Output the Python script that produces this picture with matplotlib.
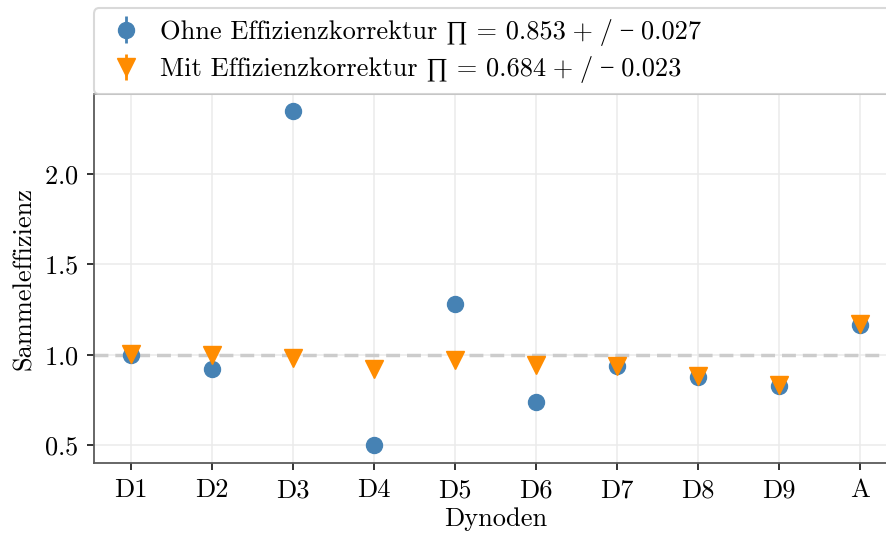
import matplotlib
matplotlib.use("Agg")
import matplotlib.pyplot as plt
import numpy as np

plt.rcParams.update({
    "font.family": ["cmr10", "Liberation Serif", "DejaVu Serif"],
    "mathtext.fontset": "cm",
    "axes.formatter.use_mathtext": True,
    "font.size": 19,
})

dynodes = ["D1", "D2", "D3", "D4", "D5", "D6", "D7", "D8", "D9", "A"]
eff_raw = [1.00, 0.92, 2.35, 0.50, 1.28, 0.74, 0.94, 0.88, 0.83, 1.165]
eff_raw_err = [0.02, 0.02, 0.03, 0.02, 0.02, 0.02, 0.02, 0.02, 0.02, 0.02]
eff_corr = [1.005, 1.0, 0.985, 0.92, 0.97, 0.945, 0.94, 0.885, 0.835, 1.17]
eff_corr_err = [0.02, 0.02, 0.02, 0.02, 0.02, 0.02, 0.02, 0.02, 0.02, 0.02]
# medium (four-per-em) spaces around the binary operators
sp = "\u2005"
label_raw = f"Ohne Effizienzkorrektur \u220f = 0.853{sp}+{sp}/{sp}\u2212{sp}0.027"
label_corr = f"Mit Effizienzkorrektur \u220f = 0.684{sp}+{sp}/{sp}\u2212{sp}0.023"

fig = plt.figure(figsize=(8.86, 5.33), dpi=100)
ax = fig.add_axes([94 / 886, 70 / 533, 803 / 886, 369 / 533])

x = np.arange(len(dynodes))
ax.axhline(1.0, color="#cccccc", lw=2.5, ls=(0, (4, 2)), zorder=1)
ax.errorbar(x, eff_raw, yerr=eff_raw_err, fmt="o", color="#4682b4",
            ms=11.5, elinewidth=2, capsize=0, label=label_raw, zorder=3)
ax.errorbar(x, eff_corr, yerr=eff_corr_err, fmt="v", color="#ff8c00",
            ms=13, elinewidth=2, capsize=0, label=label_corr, zorder=4)

ax.set_xticks(x)
ax.set_xticklabels(dynodes)
ax.set_yticks([0.5, 1.0, 1.5, 2.0])
ax.set_xlim(-0.457, 9.457)
ax.set_ylim(0.403, 2.442)
ax.grid(True, color="#ebebeb", lw=1.1)
ax.set_axisbelow(True)
for name, s in ax.spines.items():
    s.set_color("#999999" if name == "top" else "#5a5a5a")
    s.set_linewidth(1.3)
ax.tick_params(length=5, width=1.3, color="#222222", pad=6)

ax.set_xlabel("Dynoden", labelpad=4)
ax.set_ylabel("Sammeleffizienz", labelpad=6)

leg = ax.legend(loc="lower left", bbox_to_anchor=(0, 1.0, 1, 0.2), mode="expand",
                borderaxespad=0.0, frameon=True, edgecolor="#d0d0d0",
                fancybox=True, handletextpad=0.5, borderpad=0.4,
                labelspacing=0.4, handlelength=1.6)
leg.get_frame().set_linewidth(1.5)

fig.savefig("out.png", dpi=100)
